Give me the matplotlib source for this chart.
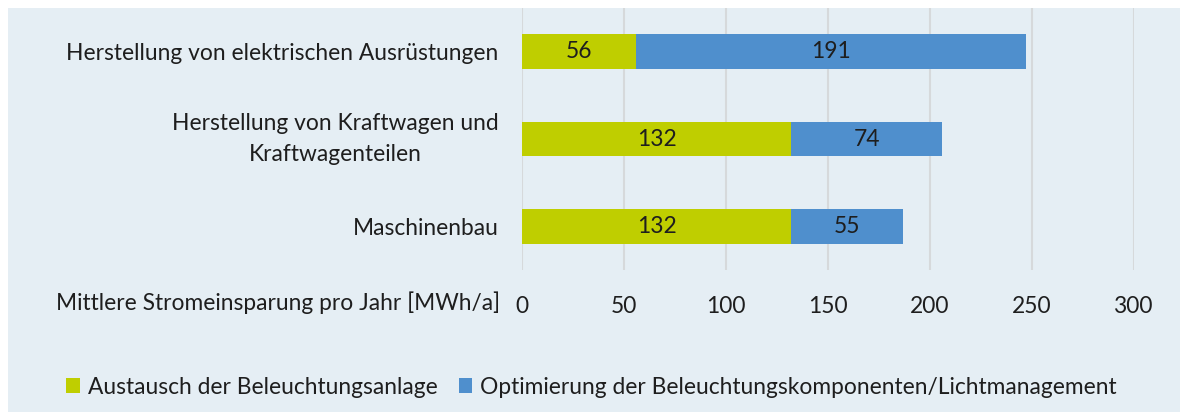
import matplotlib
matplotlib.use("Agg")
import matplotlib.pyplot as plt
from matplotlib.patches import Patch, Rectangle

# ── Data ─────────────────────────────────────────────────────────────────────
categories = [
    "Herstellung von elektrischen Ausrüstungen",
    "Herstellung von Kraftwagen und\nKraftwagenteilen",
    "Maschinenbau",
]
austausch = [56, 132, 132]
optimierung = [191, 74, 55]
series_labels = [
    "Austausch der Beleuchtungsanlage",
    "Optimierung der Beleuchtungskomponenten/Lichtmanagement",
]
x_ticks = [0, 50, 100, 150, 200, 250, 300]
axis_title = "Mittlere Stromeinsparung pro Jahr [MWh/a]"

GREEN = "#BFCE00"
BLUE = "#4F8FCD"
PANEL = "#E5EEF4"
GRID = "#D6D9DB"
TEXT = "#1E1E1E"
FS = 16.4

plt.rcParams["font.family"] = ["Lato", "DejaVu Sans"]

W, H = 1180, 412
fig = plt.figure(figsize=(W / 100, H / 100), dpi=100)
fig.patch.set_facecolor("white")
fig.patches.append(Rectangle((8 / W, 0), 1 - 8 / W, 1 - 8 / H,
                             transform=fig.transFigure, facecolor=PANEL,
                             edgecolor="none", zorder=-10))

# axes placed in pixel terms: x 522..1134, y 8..270
ax = fig.add_axes([522 / W, 1 - 270 / H, (1134 - 522) / W, (270 - 8) / H])
ax.set_facecolor("none")
ax.set_zorder(1)

ypos = list(range(len(categories)))
b1 = ax.barh(ypos, austausch, height=0.4, color=GREEN, zorder=3)
b2 = ax.barh(ypos, optimierung, left=austausch, height=0.4, color=BLUE, zorder=3)
for bars in (b1, b2):
    ax.bar_label(bars, label_type="center", fontsize=FS, color=TEXT)

ax.set_xlim(x_ticks[0], x_ticks[-1])
ax.set_ylim(len(categories) - 0.5, -0.5)
ax.set_xticks(x_ticks)
ax.set_yticks(ypos)
ax.set_yticklabels(categories, fontsize=FS, color=TEXT,
                   multialignment="center", linespacing=1.6)
for lbl in ax.get_yticklabels():
    if "\n" in lbl.get_text():
        lbl.set_va("center")
ax.tick_params(axis="x", length=0, pad=19, labelsize=FS, labelcolor=TEXT)
ax.tick_params(axis="y", length=0, pad=17)
ax.grid(axis="x", color=GRID, lw=1.5, zorder=0)
for s in ax.spines.values():
    s.set_visible(False)

fig.text(500 / W, 1 - 303 / H, axis_title, ha="right", va="center",
         fontsize=FS, color=TEXT)

handles = [Patch(facecolor=GREEN, edgecolor="none"),
           Patch(facecolor=BLUE, edgecolor="none")]
fig.legend(handles, series_labels, loc="center left",
           bbox_to_anchor=(66 / W, 1 - 387 / H), ncol=2, frameon=False,
           fontsize=FS, handlelength=0.61, handleheight=0.61,
           handletextpad=0.35, columnspacing=0.92, labelcolor=TEXT,
           borderpad=0, borderaxespad=0)

fig.savefig("out.png", dpi=100, facecolor=fig.get_facecolor())
